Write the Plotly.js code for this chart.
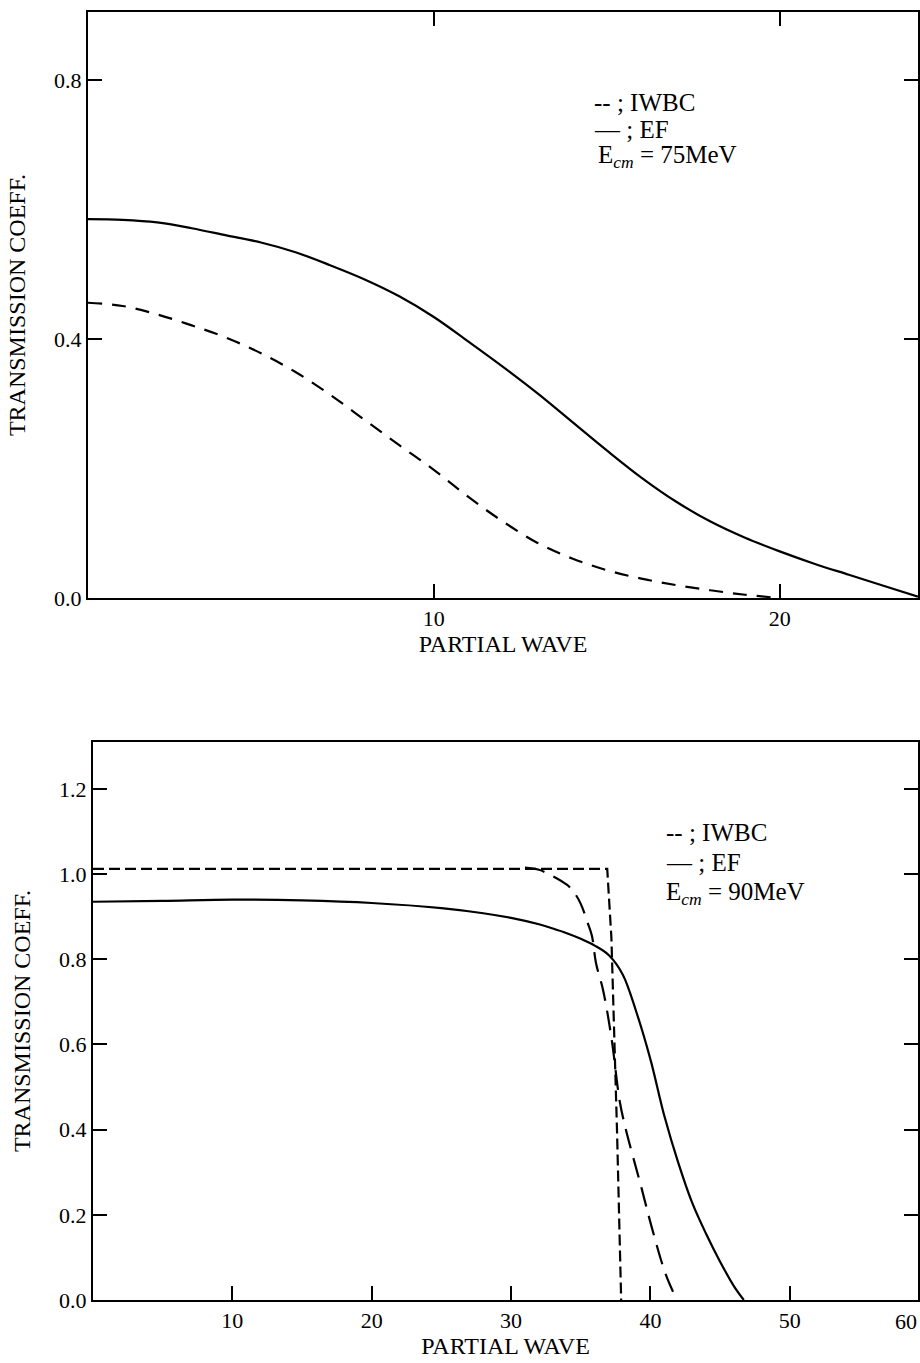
<!DOCTYPE html>
<html>
<head>
<meta charset="utf-8">
<script src="https://cdn.plot.ly/plotly-3.0.1.min.js"></script>
<style>html,body{margin:0;padding:0;background:#fff;}#chart{width:920px;height:1363px;}</style>
</head>
<body>
<div id="chart"></div>
<script>
// ---- Top panel (E_cm = 75 MeV) ----
var topEfX = [0,1,2,3,4,5,6,7,8,9,10,11,12,13,14,15,16,17,18,19,20,21,22,23,24];
var topEfY = [0.585,0.584,0.58,0.571,0.56,0.549,0.534,0.514,0.492,0.466,0.434,0.396,0.357,0.316,0.272,0.228,0.186,0.149,0.118,0.093,0.072,0.053,0.036,0.019,0.002];
var topIwbcX = [0,1,2,3,4,5,6,7,8,9,10,11,12,13,14,15,16,17,18,19,20];
var topIwbcY = [0.456,0.451,0.438,0.421,0.402,0.378,0.349,0.314,0.275,0.236,0.198,0.156,0.118,0.085,0.061,0.043,0.03,0.02,0.012,0.005,0.0];
var topXTicks = [10,20];
var topYTicks = [0,0.4,0.8];
var topYTickText = ["0.0","0.4","0.8"];

// ---- Bottom panel (E_cm = 90 MeV) ----
var botSolidX = [0,5,10,15,20,25,28,30,32,33,34,35,36,37,38,39,40,41,42,43,44,45,46,46.7];
var botSolidY = [0.935,0.937,0.94,0.938,0.932,0.92,0.908,0.897,0.882,0.872,0.861,0.848,0.832,0.81,0.765,0.675,0.565,0.432,0.322,0.228,0.155,0.09,0.032,0.0];
var botLongDashX = [31,32,33,34,34.5,35,35.5,35.8,36.1,36.6,37.2,37.8,38.2,39.4,40.1,41.1,41.9];
var botLongDashY = [1.015,1.01,0.995,0.975,0.958,0.93,0.885,0.855,0.79,0.728,0.616,0.466,0.405,0.258,0.17,0.06,0.0];
var botStepX = [0,36.9,37.2,37.6,37.9];
var botStepY = [1.012,1.012,0.85,0.4,0.0];
var botXTicks = [10,20,30,40,50];
var botEdgeTickLabel = "60";
var botYTicks = [0,0.2,0.4,0.6,0.8,1.0,1.2];

var serif = "Liberation Serif, Times New Roman, serif";

var traces = [
  {x: topEfX, y: topEfY, xaxis:'x', yaxis:'y', mode:'lines', line:{color:'#000', width:2.2, shape:'spline'}, name:'EF'},
  {x: topIwbcX, y: topIwbcY, xaxis:'x', yaxis:'y', mode:'lines', line:{color:'#000', width:2.2, dash:'14px,10px', shape:'spline'}, name:'IWBC'},
  {x: botSolidX, y: botSolidY, xaxis:'x2', yaxis:'y2', mode:'lines', line:{color:'#000', width:2.2, shape:'spline'}, name:'solid'},
  {x: botLongDashX, y: botLongDashY, xaxis:'x2', yaxis:'y2', mode:'lines', line:{color:'#000', width:2.2, dash:'20px,10px', shape:'spline'}, name:'EF'},
  {x: botStepX, y: botStepY, xaxis:'x2', yaxis:'y2', mode:'lines', line:{color:'#000', width:2.2, dash:'11px,5px'}, name:'IWBC'}
];

var axCommon = {
  showgrid:false, zeroline:false, showline:true, linecolor:'#000', linewidth:2,
  ticks:'inside', tickcolor:'#000', tickwidth:2, ticklen:14,
  tickfont:{family:serif, size:22, color:'#000'}
};

var layout = {
  width:920, height:1363,
  margin:{l:0, r:0, t:0, b:0},
  paper_bgcolor:'#fff', plot_bgcolor:'#fff',
  showlegend:false,
  font:{family:serif, color:'#000'},
  xaxis: Object.assign({}, axCommon, {
    domain:[88/920, 918/920], anchor:'y', range:[0,24], mirror:'ticks',
    tickvals: topXTicks, ticktext: topXTicks.map(String),
    title:{text:'PARTIAL WAVE', font:{family:serif, size:24, color:'#000'}, standoff:0}
  }),
  yaxis: Object.assign({}, axCommon, {
    domain:[(1363-598)/1363, (1363-12)/1363], anchor:'x', range:[0,0.905], mirror:'ticks',
    tickvals: topYTicks, ticktext: topYTickText,
    title:{text:'TRANSMISSION COEFF.', font:{family:serif, size:24, color:'#000'}, standoff:22}
  }),
  xaxis2: Object.assign({}, axCommon, {
    domain:[93/920, 918/920], anchor:'y2', range:[0,59.2], mirror:true,
    tickvals: botXTicks, ticktext: botXTicks.map(String),
    title:{text:'PARTIAL WAVE', font:{family:serif, size:24, color:'#000'}, standoff:2}
  }),
  yaxis2: Object.assign({}, axCommon, {
    domain:[63/1363, 621/1363], anchor:'x2', range:[0,1.31], mirror:'ticks',
    tickvals: botYTicks, tickformat:'.1f',
    title:{text:'TRANSMISSION COEFF.', font:{family:serif, size:24, color:'#000'}, standoff:22}
  }),
  annotations: [
    {xref:'paper', yref:'paper', x:592/920, y:1-103/1363, xanchor:'left', yanchor:'middle', showarrow:false, text:'-- ; IWBC', font:{family:serif, size:25, color:'#000'}},
    {xref:'paper', yref:'paper', x:592/920, y:1-129/1363, xanchor:'left', yanchor:'middle', showarrow:false, text:'— ; EF', font:{family:serif, size:25, color:'#000'}},
    {xref:'paper', yref:'paper', x:596/920, y:1-156/1363, xanchor:'left', yanchor:'middle', showarrow:false, text:'E<sub><i>cm</i></sub> = 75MeV', font:{family:serif, size:25, color:'#000'}},
    {xref:'paper', yref:'paper', x:664/920, y:1-832/1363, xanchor:'left', yanchor:'middle', showarrow:false, text:'-- ; IWBC', font:{family:serif, size:25, color:'#000'}},
    {xref:'paper', yref:'paper', x:664/920, y:1-862/1363, xanchor:'left', yanchor:'middle', showarrow:false, text:'— ; EF', font:{family:serif, size:25, color:'#000'}},
    {xref:'paper', yref:'paper', x:664/920, y:1-893/1363, xanchor:'left', yanchor:'middle', showarrow:false, text:'E<sub><i>cm</i></sub> = 90MeV', font:{family:serif, size:25, color:'#000'}},
    {xref:'paper', yref:'paper', x:919/920, y:1-1321/1363, xanchor:'right', yanchor:'middle', showarrow:false, text:botEdgeTickLabel, font:{family:serif, size:22, color:'#000'}}
  ]
};

Plotly.newPlot('chart', traces, layout, {staticPlot:true, displayModeBar:false});
</script>
</body>
</html>
